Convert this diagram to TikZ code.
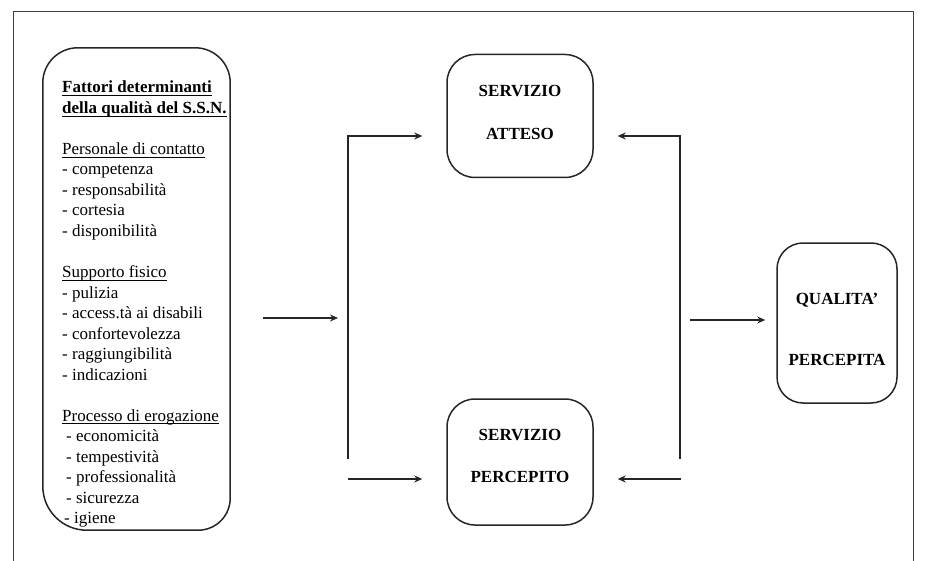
\documentclass[tikz,border=0pt]{standalone}
\usepackage{fontspec}
\setmainfont{Liberation Serif}
\usetikzlibrary{arrows.meta}
\newsavebox\ulbox
\newcommand\ulin[1]{\sbox\ulbox{#1}\rlap{\rule[-3.2pt]{\wd\ulbox}{1.1pt}}\usebox\ulbox}
\tikzset{
  ink/.style={draw=black!85, line width=1.5pt},
  framel/.style={draw=black!75, line width=1pt},
  rbox/.style={ink, rounded corners=#1, inner sep=0pt},
  item/.style={anchor=base west, inner sep=0pt, font=\fontsize{17}{20.5}\selectfont},
  ttl/.style={inner sep=0pt, font=\fontsize{17}{20.5}\selectfont\bfseries},
  arr/.style={ink, line width=1.3pt, -{Stealth[length=8pt,width=7pt]}},
}
\begin{document}
\begin{tikzpicture}[x=1pt,y=-1pt]
\useasboundingbox (0,0) rectangle (933,561);
\fill[white] (0,0) rectangle (933,561);

% outer frame (open at the bottom)
\draw[framel] (13,561) -- (13,12) -- (913,12) -- (913,561);

% left box with the list of quality factors (wider bottom-left corner)
\node[inner sep=0pt, minimum width=187pt, minimum height=482pt] (fattori) at (136.5,289) {};
\draw[ink] ([xshift=50pt]fattori.north west)
  [rounded corners=35pt] -- (fattori.north east)
  [rounded corners=32pt] -- (fattori.south east)
  [rounded corners=44pt] -- (fattori.south west)
  [rounded corners=35pt] -- (fattori.north west) -- ([xshift=50pt]fattori.north west);
\node[item] (l0)  at (62,93)    {\ulin{\textbf{Fattori determinanti}}};
\node[item] (l1)  at (62,113.5) {\ulin{\textbf{della qualità del S.S.N.}}};
\node[item] (l3)  at (62,154.5) {\ulin{Personale di contatto}};
\node[item] (l4)  at (62,175)   {- competenza};
\node[item] (l5)  at (62,195.5) {- responsabilità};
\node[item] (l6)  at (62,216)   {- cortesia};
\node[item] (l7)  at (62,236.5) {- disponibilità};
\node[item] (l9)  at (62,277.5) {\ulin{Supporto fisico}};
\node[item] (l10) at (62,298)   {- pulizia};
\node[item] (l11) at (62,318.5) {- access.tà ai disabili};
\node[item] (l12) at (62,339)   {- confortevolezza};
\node[item] (l13) at (62,359.5) {- raggiungibilità};
\node[item] (l14) at (62,380)   {- indicazioni};
\node[item] (l16) at (62,421)   {\ulin{Processo di erogazione}};
\node[item] (l17) at (66,441.5) {- economicità};
\node[item] (l18) at (66,462)   {- tempestività};
\node[item] (l19) at (66,482.5) {- professionalità};
\node[item] (l20) at (66,503)   {- sicurezza};
\node[item] (l21) at (64,523.5) {- igiene};

% service boxes
\node[rbox=28pt, minimum width=146pt, minimum height=123pt] (atteso) at (520,116) {};
\node[ttl] (atteso1) at (520,91)  {SERVIZIO};
\node[ttl] (atteso2) at (520,134) {ATTESO};

\node[rbox=28pt, minimum width=146pt, minimum height=126pt] (percepito) at (520,462) {};
\node[ttl] (perc1) at (520,435) {SERVIZIO};
\node[ttl] (perc2) at (520,477) {PERCEPITO};

\node[rbox=26pt, minimum width=120pt, minimum height=160pt] (qualita) at (837,323) {};
\node[ttl] (qual1) at (837,300) {QUALITA’};
\node[ttl] (qual2) at (837,360) {PERCEPITA};

% connector end points
\coordinate (inS) at (263,318);
\coordinate (inE) at (338,318);
\coordinate (lbus) at (348,459);
\coordinate (lbot) at (348,479);
\coordinate (rbus) at (680,459);
\coordinate (rbot) at (681,479);
\coordinate (qS) at (690,320);

% connectors
\draw[arr] (inS) -- (inE);
\draw[arr, shorten >=24pt] (lbus) |- ([yshift=-20pt]atteso.west);
\draw[arr, shorten >=24pt] (lbot) -- (lbot -| percepito.west);
\draw[arr, shorten >=24pt] (rbus) |- ([yshift=-20pt]atteso.east);
\draw[arr, shorten >=24pt] (rbot) -- (rbot -| percepito.east);
\draw[arr, shorten >=11pt] (qS) -- (qS -| qualita.west);
\end{tikzpicture}
\end{document}
